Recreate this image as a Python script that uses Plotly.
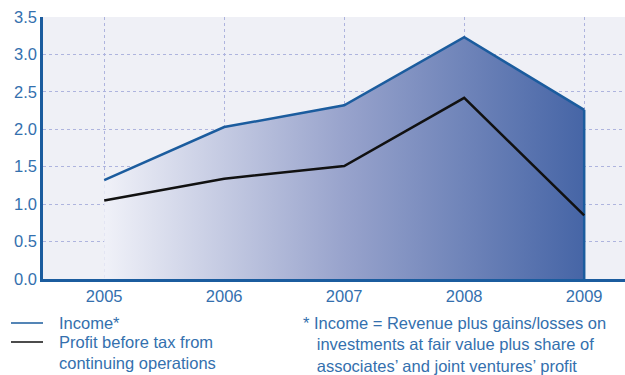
import plotly.graph_objects as go

years = [2005, 2006, 2007, 2008, 2009]
income = [1.32, 2.03, 2.32, 3.23, 2.26]
profit = [1.05, 1.34, 1.51, 2.42, 0.85]
y_ticks = [0.0, 0.5, 1.0, 1.5, 2.0, 2.5, 3.0, 3.5]
legend_labels = ["Income*", "Profit before tax from<br>continuing operations"]
footnote = ("* Income = Revenue plus gains/losses on<br>"
            "  investments at fair value plus share of<br>"
            "  associates’ and joint ventures’ profit")

BLUE = "#1B5C9E"
TEXT = "#3470AE"
FS = 16.5

fig = go.Figure()
fig.add_trace(go.Scatter(
    x=years, y=income, mode="lines", fill="tozeroy",
    fillgradient=dict(type="horizontal",
                      colorscale=[[0, "#F0F1F8"], [0.5, "#98A3CC"], [1, "#4665A6"]]),
    line=dict(color=BLUE, width=2.5), showlegend=False))
fig.add_trace(go.Scatter(
    x=[years[-1], years[-1]], y=[0, income[-1]], mode="lines",
    line=dict(color=BLUE, width=2.5), showlegend=False))
fig.add_trace(go.Scatter(
    x=years, y=profit, mode="lines",
    line=dict(color="#111111", width=2.5), showlegend=False))

fig.update_layout(
    width=625, height=375,
    margin=dict(l=43, r=0, t=17, b=96),
    paper_bgcolor="white", plot_bgcolor="#EFF0F6",
    font=dict(family="Liberation Sans, Arial, sans-serif", size=FS, color=TEXT),
    xaxis=dict(range=[2004.49, 2009.34], tickvals=years, ticktext=[str(y) for y in years],
               showgrid=True, gridcolor="#AEB4DE", griddash="dot", gridwidth=1,
               showline=True, linecolor=BLUE, linewidth=2.5, zeroline=False,
               ticks="", tickfont=dict(size=FS, color=TEXT)),
    yaxis=dict(range=[0, 3.5], tickvals=y_ticks, tickformat=".1f",
               showgrid=True, gridcolor="#AEB4DE", griddash="dot", gridwidth=1,
               showline=True, linecolor=BLUE, linewidth=2.5, zeroline=False,
               ticks="", ticklen=0, tickfont=dict(size=FS, color=TEXT)),
)

# manual legend
legend_colors = [BLUE, "#111111"]
legend_y = [323, 342]
for lab, col, yy in zip(legend_labels, legend_colors, legend_y):
    fig.add_shape(type="line", xref="paper", yref="paper",
                  x0=(11 - 43) / 582, x1=(43 - 43) / 582,
                  y0=(375 - 96 - yy) / 262, y1=(375 - 96 - yy) / 262,
                  line=dict(color=col, width=1.5))
fig.add_annotation(xref="paper", yref="paper", x=(57 - 43) / 582, y=(279 - 312) / 262,
                   xanchor="left", yanchor="top", align="left", showarrow=False,
                   text=legend_labels[0], font=dict(size=FS, color=TEXT))
fig.add_annotation(xref="paper", yref="paper", x=(57 - 43) / 582, y=(279 - 331) / 262,
                   xanchor="left", yanchor="top", align="left", showarrow=False,
                   text=legend_labels[1], font=dict(size=FS, color=TEXT))
fig.add_annotation(xref="paper", yref="paper", x=(301 - 43) / 582, y=(279 - 312) / 262,
                   xanchor="left", yanchor="top", align="left", showarrow=False,
                   text=footnote.replace("  ", "&nbsp;&nbsp;&nbsp;"),
                   font=dict(size=FS, color=TEXT))

fig.write_html("out.html")
